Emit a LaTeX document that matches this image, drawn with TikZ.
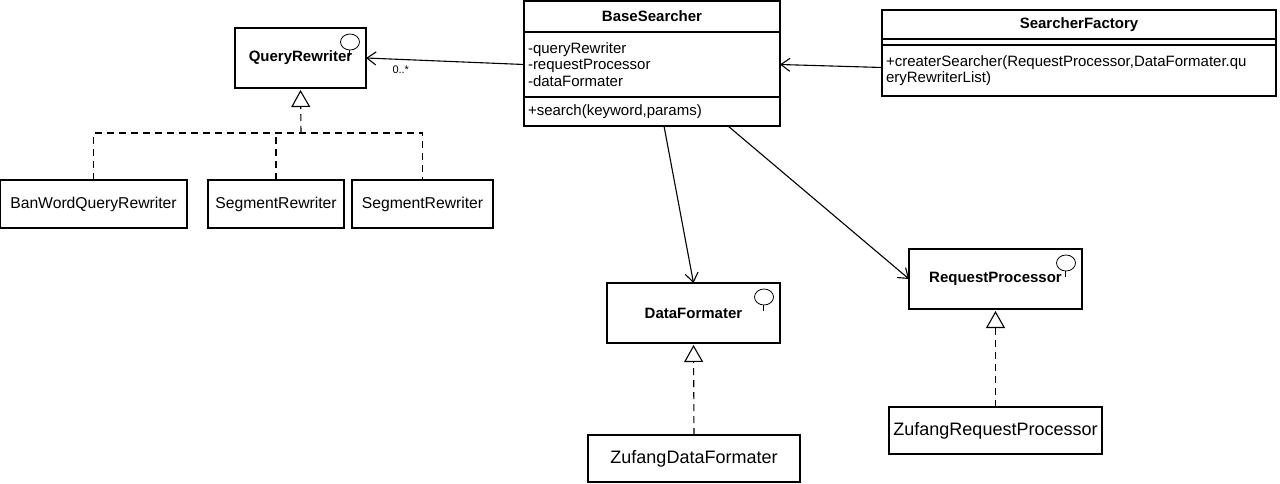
\documentclass[tikz,border=0pt]{standalone}
\usepackage{fontspec}
\setmainfont{Liberation Sans}
\usetikzlibrary{arrows.meta,positioning}
\begin{document}
\begin{tikzpicture}[x=1pt, y=-1pt, line width=1.1pt]
  % Define block styles
  \tikzstyle{block} = [rectangle, draw, anchor=north west, inner sep=4pt, outer sep=0pt, font=\fontsize{15.7}{18}\selectfont]
  \tikzstyle{title} = [block, font=\fontsize{15}{18}\selectfont\bfseries]
  \tikzstyle{members} = [block, anchor=north, align=left, font=\fontsize{15}{16.5}\selectfont]
  \tikzstyle{impl} = [block, font=\fontsize{18}{20}\selectfont]
  \tikzstyle{line} = [draw, -{Straight Barb[length=9pt, width=13pt]}]
  \tikzstyle{realize} = [draw, dash pattern=on 7pt off 5pt]

  \useasboundingbox (0,0) rectangle (1280,484);

  % Place blocks
  \node [title, minimum width=256, minimum height=31] (base) at (524,1) {BaseSearcher};
  \node [members, text width=248pt, minimum height=65] (base-attr) at (base.south) {-queryRewriter\\-requestProcessor\\-dataFormater};
  \node [members, text width=248pt, minimum height=29] (base-ops) at (base-attr.south) {+search(keyword,params)};

  \node [title, minimum width=394, minimum height=29] (fact) at (882,10) {SearcherFactory};
  \node [block, anchor=north, inner sep=0pt, minimum width=394, minimum height=6] (fact-attr) at (fact.south) {};
  \node [members, text width=386pt, minimum height=51] (fact-ops) at (fact-attr.south) {+createrSearcher(RequestProcessor,DataFormater.qu\\eryRewriterList)};

  \node [title, minimum width=131, minimum height=60] (qr) at (235,28) {QueryRewriter};
  \node [title, minimum width=173, minimum height=60] (df) at (607,283) {DataFormater};
  \node [title, minimum width=173, minimum height=60] (rp) at (909,249) {RequestProcessor};

  \node [block, minimum width=187, minimum height=48] (ban) at (0,180) {BanWordQueryRewriter};
  \node [block, minimum width=136, minimum height=48] (sega) at (208,180) {SegmentRewriter};
  \node [block, minimum width=141, minimum height=48] (segb) at (352,180) {SegmentRewriter};

  \node [impl, minimum width=212, minimum height=47] (zdf) at (588,435) {ZufangDataFormater};
  \node [impl, minimum width=213, minimum height=47] (zrp) at (889,407) {ZufangRequestProcessor};

  % Interface marks
  \foreach \n in {qr, df, rp} {
    \draw [line width=0.8pt] ([shift={(-16,14)}]\n.north east) ellipse (9.5pt and 8pt);
    \draw [line width=0.8pt] ([shift={(-17,22)}]\n.north east) -- ++(0,6);
  }

  % Draw lines
  \path [line] (base-attr.west) -- node [pos=0.78, below=3pt, font=\fontsize{11}{12}\selectfont] {0..*} (qr.east);
  \path [line] ([yshift=3pt]fact-ops.west) -- (base-attr.east);
  \path [line] ([xshift=12pt]base-ops.south) -- (df.north);
  \path [line] ([xshift=76pt]base-ops.south) -- (rp.west);

  \coordinate (fork) at (301,133);
  \path [realize] (ban.north) |- (fork) -| (segb.north);
  \path [realize] (sega.north) -- (sega.north |- fork);
  \path [realize, -{Triangle[open, length=17pt, width=19pt]}, shorten >=2pt] (fork) -- (qr.south);
  \path [realize, -{Triangle[open, length=17pt, width=19pt]}, shorten >=2pt] (zdf.north) -- (df.south);
  \path [realize, -{Triangle[open, length=17pt, width=19pt]}, shorten >=2pt] (zrp.north) -- (rp.south);
\end{tikzpicture}
\end{document}
